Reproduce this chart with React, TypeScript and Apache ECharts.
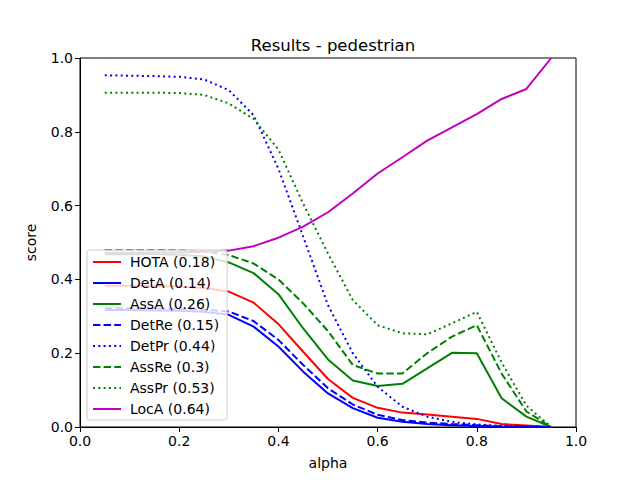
import React, { useEffect, useRef } from "react";
import * as echarts from "echarts";

const alpha = [0.05, 0.1, 0.15, 0.2, 0.25, 0.3, 0.35, 0.4, 0.45, 0.5, 0.55, 0.6, 0.65, 0.7, 0.75, 0.8, 0.85, 0.9, 0.95];

const hota = [0.383, 0.383, 0.382, 0.381, 0.377, 0.367, 0.337, 0.279, 0.204, 0.13, 0.079, 0.052, 0.039, 0.034, 0.028, 0.022, 0.008, 0.004, 0];
const detA = [0.317, 0.317, 0.316, 0.315, 0.312, 0.304, 0.272, 0.218, 0.15, 0.091, 0.051, 0.025, 0.014, 0.008, 0.005, 0.003, 0.001, 0.0005, 0];
const assA = [0.468, 0.468, 0.468, 0.467, 0.462, 0.446, 0.417, 0.36, 0.267, 0.183, 0.126, 0.111, 0.117, 0.159, 0.201, 0.2, 0.078, 0.028, 0];
const detRe = [0.322, 0.322, 0.321, 0.32, 0.318, 0.313, 0.287, 0.236, 0.168, 0.105, 0.061, 0.033, 0.019, 0.012, 0.008, 0.005, 0.002, 0.001, 0];
const detPr = [0.953, 0.952, 0.951, 0.949, 0.942, 0.913, 0.845, 0.7, 0.516, 0.33, 0.2, 0.109, 0.055, 0.028, 0.014, 0.007, 0.003, 0.001, 0];
const assRe = [0.48, 0.48, 0.48, 0.479, 0.476, 0.466, 0.443, 0.4, 0.335, 0.26, 0.168, 0.145, 0.145, 0.2, 0.245, 0.276, 0.145, 0.042, 0];
const assPr = [0.906, 0.906, 0.906, 0.905, 0.9, 0.877, 0.835, 0.752, 0.605, 0.47, 0.344, 0.276, 0.254, 0.251, 0.281, 0.312, 0.175, 0.058, 0];
const locA = [0.472, 0.472, 0.473, 0.473, 0.475, 0.478, 0.49, 0.513, 0.543, 0.582, 0.633, 0.687, 0.731, 0.776, 0.812, 0.848, 0.889, 0.916, 1.0];

const seriesNames = ["HOTA (0.18)", "DetA (0.14)", "AssA (0.26)", "DetRe (0.15)", "DetPr (0.44)", "AssRe (0.3)", "AssPr (0.53)", "LocA (0.64)"];

const DASH = [7.4, 3.2];
const DOT = [2, 3.3];

export default function App() {
  const ref = useRef<HTMLDivElement>(null);
  useEffect(() => {
    if (!ref.current) return;
    const chart = echarts.init(ref.current, null, { renderer: "svg" });
    const font = "DejaVu Sans";
    const mk = (name: string, vals: number[], color: string, type: any) => ({
      name,
      type: "line",
      data: alpha.map((a, i) => [a, vals[i]]),
      symbol: "none",
      lineStyle: { color, width: 2, type },
      itemStyle: { color },
      clip: true,
    });
    chart.setOption({
      animation: false,
      backgroundColor: "#fff",
      textStyle: { fontFamily: font },
      title: {
        text: "Results - pedestrian",
        left: 328,
        top: 32,
        textAlign: "center",
        textStyle: { fontFamily: font, fontSize: 16.5, fontWeight: "normal", color: "#000" },
      },
      grid: { left: 80, right: 64, top: 58, bottom: 53, show: true, borderColor: "#000", borderWidth: 1, backgroundColor: "transparent" },
      xAxis: {
        type: "value",
        min: 0,
        max: 1,
        interval: 0.2,
        name: "alpha",
        nameLocation: "middle",
        nameGap: 29,
        nameTextStyle: { fontFamily: font, fontSize: 14, color: "#000" },
        axisLine: { show: true, lineStyle: { color: "#000", width: 1 } },
        axisTick: { show: true, length: 5, lineStyle: { color: "#000" } },
        axisLabel: { fontFamily: font, fontSize: 14, color: "#000", margin: 7, formatter: (v: number) => v.toFixed(1) },
        splitLine: { show: false },
      },
      yAxis: {
        type: "value",
        min: 0,
        max: 1,
        interval: 0.2,
        name: "score",
        nameLocation: "middle",
        nameGap: 42,
        nameTextStyle: { fontFamily: font, fontSize: 14, color: "#000" },
        axisLine: { show: true, lineStyle: { color: "#000", width: 1 } },
        axisTick: { show: true, length: 5, lineStyle: { color: "#000" } },
        axisLabel: { fontFamily: font, fontSize: 14, color: "#000", margin: 7, formatter: (v: number) => v.toFixed(1) },
        splitLine: { show: false },
      },
      legend: {
        orient: "vertical",
        left: 87,
        top: 250,
        padding: [5, 8, 4, 5],
        itemWidth: 28,
        itemHeight: 14,
        itemGap: 7,
        itemStyle: { opacity: 0 },
        backgroundColor: "rgba(255,255,255,0.8)",
        borderColor: "#cccccc",
        borderWidth: 1,
        borderRadius: 3,
        textStyle: { fontFamily: font, fontSize: 14, color: "#000", padding: [0, 0, 0, 4] },
        data: seriesNames,
      },
      series: [
        mk(seriesNames[0], hota, "#ff0000", "solid"),
        mk(seriesNames[1], detA, "#0000ff", "solid"),
        mk(seriesNames[2], assA, "#008000", "solid"),
        mk(seriesNames[3], detRe, "#0000ff", DASH),
        mk(seriesNames[4], detPr, "#0000ff", DOT),
        mk(seriesNames[5], assRe, "#008000", DASH),
        mk(seriesNames[6], assPr, "#008000", DOT),
        mk(seriesNames[7], locA, "#bf00bf", "solid"),
      ],
    });
    return () => chart.dispose();
  }, []);
  return <div ref={ref} style={{ width: 640, height: 480, position: "absolute", left: 0, top: 0 }} />;
}
